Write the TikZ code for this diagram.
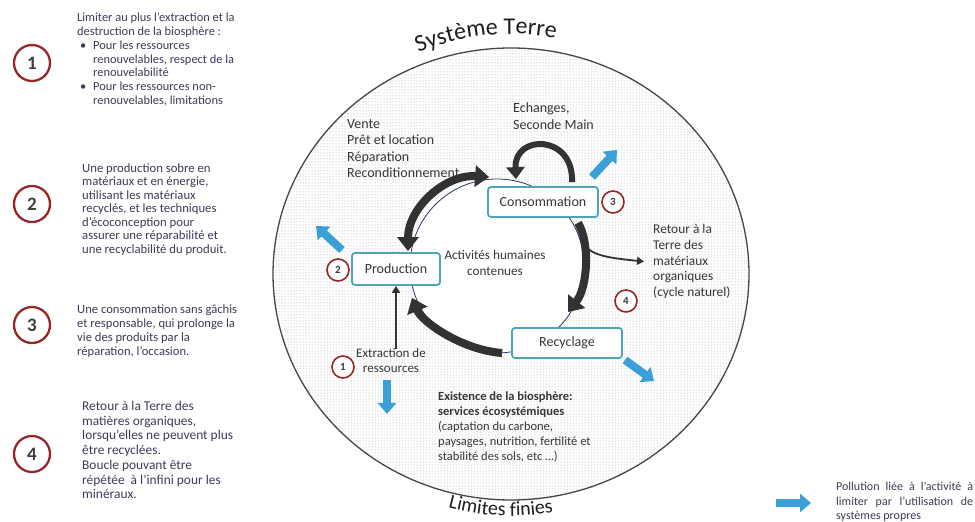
\documentclass[tikz,border=0pt]{standalone}
\usepackage{fontspec}
\setmainfont{Carlito}
\usetikzlibrary{arrows.meta,patterns,decorations.text}
\definecolor{ringc}{RGB}{70,70,70}
\definecolor{navyc}{RGB}{40,55,100}
\definecolor{tealc}{RGB}{78,165,185}
\definecolor{redc}{RGB}{150,40,40}
\definecolor{bluec}{RGB}{58,160,215}
\definecolor{txt}{RGB}{55,55,55}
\definecolor{sidetxt}{RGB}{60,60,90}
\definecolor{numc}{RGB}{60,60,60}
\definecolor{arrowc}{RGB}{50,50,50}
\definecolor{titlec}{RGB}{30,30,30}
\begin{document}
\begin{tikzpicture}[x=1pt,y=1pt,
  bigno/.style={circle, draw=redc, line width=2.3pt, fill=white, minimum size=36pt, inner sep=0pt, font=\fontsize{19}{19}\selectfont\bfseries, text=numc},
  smallno/.style={circle, draw=redc, line width=1.6pt, fill=white, minimum size=22pt, inner sep=0pt, font=\fontsize{11}{11}\selectfont\bfseries, text=numc},
  box/.style={draw=tealc, line width=1.8pt, rounded corners=3pt, fill=white, font=\fontsize{14}{16}\selectfont, text=txt, inner sep=0pt},
  lab/.style={font=\fontsize{14}{16.5}\selectfont, text=txt, align=left, inner sep=0pt},
  side/.style={text=sidetxt, align=left, inner sep=0pt, anchor=north west},
  blk/.style={draw=arrowc, line width=8pt},
  bluearrow/.style={draw=bluec, line width=8pt, -{Triangle[width=18pt,length=11pt]}},
  thinarrow/.style={draw=arrowc, line width=1.8pt, -{Triangle[width=8pt,length=7pt]}}
]
\useasboundingbox (0,0) rectangle (975,522);
\fill[white] (0,0) rectangle (975,522);

% Earth system
\fill[white] (511,248) ellipse [x radius=238, y radius=226];
\fill[pattern=dots, pattern color=gray!70] (511,248) ellipse [x radius=238, y radius=226];
\draw[ringc, line width=1.3pt] (511,248) ellipse [x radius=238, y radius=226];
\draw[navyc, line width=0.8pt, fill=white] (497,256) circle [radius=87];

% curved titles
\path[decorate, decoration={text along path, text align=center,
  text={|\fontsize{24}{24}\selectfont\color{titlec}|Système Terre}}]
  (511,248) ++(121:240) arc [start angle=121, end angle=71, radius=240];
\path[decorate, decoration={text along path, text align=center,
  text={|\fontsize{20}{20}\selectfont\color{titlec}|Limites finies}}]
  (511,248) ++(240:242) arc [start angle=240, end angle=295, radius=242];

% boxes
\node[box, minimum width=88pt, minimum height=32pt] (prod) at (396,253) {Production};
\node[box, minimum width=110pt, minimum height=30pt] (cons) at (543,320) {Consommation};
\node[box, minimum width=110pt, minimum height=30pt] (rec) at (567,179) {Recyclage};

% labels
\node[lab, anchor=north west] (vente) at (347,403) {Vente\\Prêt et location\\Réparation\\Reconditionnement};
\node[lab, anchor=north west] (ech) at (513,419) {Echanges,\\Seconde Main};
\node[lab, align=center, font=\fontsize{13.2}{16}\selectfont] (act) at (495,259) {Activités humaines\\contenues};
\node[lab, anchor=north west, font=\fontsize{13.4}{15.8}\selectfont] (ret) at (653,298) {Retour à la\\Terre des\\matériaux\\organiques\\(cycle naturel)};
\node[lab, align=center, font=\fontsize{13}{15}\selectfont] (extr) at (391,161) {Extraction de\\ressources};
\node[lab, anchor=north west, font=\fontsize{12.5}{14.8}\selectfont] (exist) at (438,130) {\textbf{Existence de la biosphère:}\\\textbf{services écosystémiques}\\(captation du carbone,\\paysages, nutrition, fertilité et\\stabilité des sols, etc …)};

% black cycle arrows
\draw[blk, {Triangle[width=21pt,length=14pt]}-{Triangle[width=21pt,length=14pt]}]
  ([shift={(12pt,1pt)}]prod.north) .. controls (408,314) and (445,348) .. ([shift={(2pt,9pt)}]cons.north west);
\draw[blk, line width=6pt, -{Triangle[width=18pt,length=12pt]}]
  ([shift={(29pt,4pt)}]cons.north) .. controls (574,388) and (514,388) .. ([shift={(-27pt,7pt)}]cons.north);
\coordinate (brk) at (584,277);
\draw[blk, -{Triangle[width=21pt,length=14pt]}]
  ([shift={(35pt,-5pt)}]cons.south) .. controls (590,280) and (588,235) .. ([shift={(1pt,15pt)}]rec.north);
\draw[thinarrow] (brk) .. controls (593,266) and (610,264) .. ([xshift=-9pt]ret.west);
\draw[blk, -{Triangle[width=21pt,length=14pt]}]
  ([shift={(-9pt,-10pt)}]rec.west) .. controls (462,172) and (422,200) .. ([shift={(16pt,-12pt)}]prod.south);
\draw[thinarrow] (extr.north -| prod.south) -- (prod.south);

% small numbers
\node[smallno] (n1) at (343,155) {1};
\node[smallno] (n2) at (338,252) {2};
\node[smallno] (n3) at (613,320) {3};
\node[smallno] (n4) at (626,221) {4};

% blue pollution arrows
\coordinate (bp1) at (342,272); \coordinate (bp2) at (316,296);
\coordinate (bc1) at (592,345); \coordinate (bc2) at (617,372);
\coordinate (br1) at (625,162); \coordinate (br2) at (654,141);
\coordinate (be1) at (387,142); \coordinate (be2) at (387,108);
\draw[bluearrow] (bp1) -- (bp2);
\draw[bluearrow] (bc1) -- (bc2);
\draw[bluearrow] (br1) -- (br2);
\draw[bluearrow] (be1) -- (be2);

% left column
\node[bigno] (L1) at (32,459) {1};
\node[bigno] (L2) at (32,318) {2};
\node[bigno] (L3) at (32,197) {3};
\node[bigno] (L4) at (32,68) {4};
\node[side, font=\fontsize{12.4}{13.7}\selectfont] (t1) at (77,509) {Limiter au plus l’extraction et la\\destruction de la biosphère :\\\makebox[16pt][l]{\hspace{3pt}•}Pour les ressources\\\hspace*{16pt}renouvelables, respect de la\\\hspace*{16pt}renouvelabilité\\\makebox[16pt][l]{\hspace{3pt}•}Pour les ressources non-\\\hspace*{16pt}renouvelables, limitations};
\node[side, font=\fontsize{12.7}{13.5}\selectfont] (t2) at (82,359) {Une production sobre en\\matériaux et en énergie,\\utilisant les matériaux\\recyclés, et les techniques\\d’écoconception pour\\assurer une réparabilité et\\une recyclabilité du produit.};
\node[side, font=\fontsize{12.6}{14}\selectfont] (t3) at (77,217) {Une consommation sans gâchis\\et responsable, qui prolonge la\\vie des produits par la\\réparation, l’occasion.};
\node[side, font=\fontsize{13.4}{14.7}\selectfont] (t4) at (82,121) {Retour à la Terre des\\matières organiques,\\lorsqu’elles ne peuvent plus\\être recyclées.\\Boucle pouvant être\\répétée \ à l’infini pour les\\minéraux.};

% legend
\coordinate (lg1) at (776,19); \coordinate (lg2) at (811,19);
\draw[bluearrow] (lg1) -- (lg2);
\node[side, font=\fontsize{12}{14.5}\selectfont, text width=137pt, align=justify] (lgt) at (836,40) {Pollution liée à l’activité à limiter par l’utilisation de systèmes propres};
\end{tikzpicture}
\end{document}
